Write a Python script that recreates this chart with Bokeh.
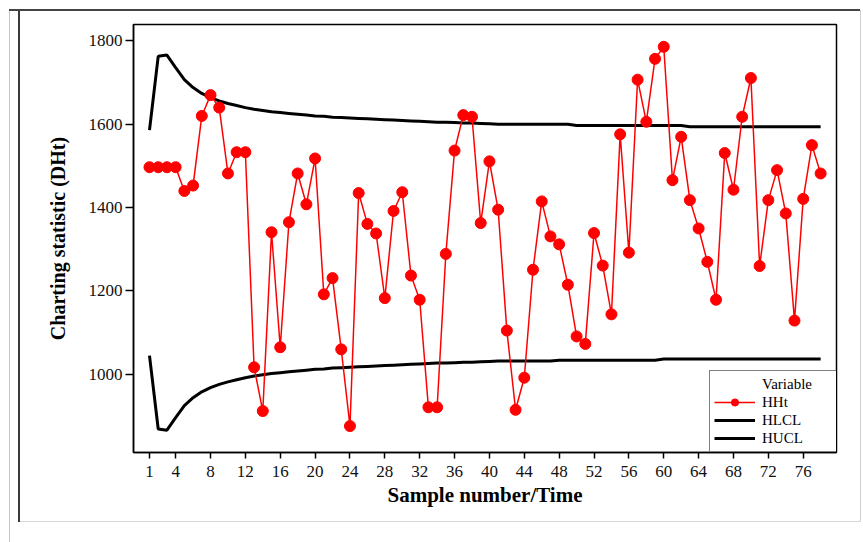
from bokeh.plotting import figure
from bokeh.models import FixedTicker, Legend, LegendItem, Range1d
from bokeh.embed import file_html
from bokeh.resources import INLINE

# ---------------- data ----------------
samples = list(range(1, 79))

hht = [1497, 1497, 1497, 1497, 1440, 1453, 1620, 1670, 1640, 1482, 1533, 1533,
       1017, 912, 1341, 1065, 1365, 1482, 1408, 1518, 1192, 1231, 1060, 876,
       1435, 1361, 1338, 1183, 1392, 1437, 1237, 1179, 921, 921, 1289, 1537,
       1622, 1618, 1363, 1511, 1395, 1105, 915, 992, 1251, 1415, 1331, 1312,
       1215, 1091, 1073, 1339, 1261, 1144, 1576, 1292, 1707, 1606, 1757, 1786,
       1466, 1570, 1418, 1350, 1270, 1179, 1531, 1443, 1618, 1711, 1260, 1418,
       1490, 1386, 1129, 1421, 1550, 1482]

hucl = [1586, 1763, 1766, 1736, 1707, 1688, 1674, 1664, 1656, 1650, 1645, 1640,
        1636, 1633, 1630, 1628, 1626, 1624, 1622, 1620, 1619, 1617, 1616, 1615,
        1614, 1613, 1612, 1611, 1610, 1609, 1608, 1607, 1606, 1605, 1605, 1604,
        1603, 1603, 1602, 1601,
        1600, 1600, 1600, 1600, 1600, 1600, 1600, 1600, 1600,
        1597, 1597, 1597, 1597, 1597, 1597, 1597, 1597, 1597, 1597, 1597, 1597, 1597,
        1594, 1594, 1594, 1594, 1594, 1594, 1594, 1594, 1594, 1594, 1594, 1594,
        1594, 1594, 1594, 1594]

hlcl = [1045, 869, 866, 896, 925, 944, 958, 968, 976, 982, 987, 992,
        996, 999, 1002, 1004, 1006, 1008, 1010, 1012, 1013, 1015, 1016, 1017,
        1018, 1019, 1020, 1021, 1022, 1023, 1024, 1025, 1026, 1027, 1027, 1028,
        1029, 1029, 1030, 1031,
        1032, 1032, 1032, 1032, 1032, 1032, 1032,
        1034, 1034, 1034, 1034, 1034, 1034, 1034, 1034, 1034, 1034, 1034, 1034,
        1037, 1037, 1037, 1037, 1037, 1037, 1037, 1037, 1037, 1037, 1037, 1037,
        1037, 1037, 1037, 1037, 1037, 1037, 1037]

x_ticks = [1, 4, 8, 12, 16, 20, 24, 28, 32, 36, 40, 44, 48, 52, 56, 60, 64, 68, 72, 76]
y_ticks = [1000, 1200, 1400, 1600, 1800]

legend_title = "Variable"
series_names = ["HHt", "HLCL", "HUCL"]

# ---------------- figure ----------------
SERIF = "Liberation Serif"

p = figure(width=863, height=542, output_backend="svg", toolbar_location=None,
           x_range=Range1d(-0.835, 79.82), y_range=Range1d(812.5, 1839.4),
           min_border_left=133, min_border_right=27,
           min_border_top=24, min_border_bottom=90)
p.grid.visible = False
p.background_fill_color = "white"
p.border_fill_color = "white"
p.border_fill_alpha = 0.0
p.outline_line_color = "black"
p.outline_line_width = 1.5

# decorative scan border of the page, drawn behind the transparent canvas
p.styles = {
    "background-color": "white",
    "background-image": ", ".join(["linear-gradient(#444444, #444444)",
                                   "linear-gradient(#c4c4c4, #c4c4c4)",
                                   "linear-gradient(#3a3a3a, #3a3a3a)",
                                   "linear-gradient(#d8d8d8, #d8d8d8)",
                                   "linear-gradient(#d0d0d0, #d0d0d0)"]),
    "background-size": "851px 2px, 1px 533px, 2px 512px, 841px 1px, 1px 512px",
    "background-position": "9px 9px, 9px 9px, 18px 10px, 20px 521px, 860px 10px",
    "background-repeat": "no-repeat",
}

r_lcl = p.line(samples, hlcl, line_color="black", line_width=3)
r_ucl = p.line(samples, hucl, line_color="black", line_width=3)
r_hl = p.line(samples, hht, line_color="#ff0000", line_width=1.5)
r_hs = p.scatter(samples, hht, marker="circle", size=11,
                 fill_color="#ff0000", line_color="#ff0000")
r_dummy = p.line(x=[], y=[], line_alpha=0)

for ax in (p.xaxis[0], p.yaxis[0]):
    ax.axis_line_color = "black"
    ax.axis_line_width = 1.5
    ax.major_tick_line_color = "black"
    ax.major_tick_line_width = 1.5
    ax.major_tick_in = 0
    ax.minor_tick_line_color = None
    ax.major_label_text_font = SERIF
    ax.major_label_text_font_size = "17px"
    ax.major_label_text_color = "#111111"
    ax.axis_label_text_font = SERIF
    ax.axis_label_text_font_style = "bold"
    ax.axis_label_text_color = "black"

p.xaxis.ticker = FixedTicker(ticks=x_ticks)
p.xaxis.major_tick_out = 6
p.xaxis.major_label_standoff = 7
p.xaxis.axis_label = "Sample number/Time"
p.xaxis.axis_label_text_font_size = "21px"
p.xaxis.axis_label_standoff = 3

p.yaxis.ticker = FixedTicker(ticks=y_ticks)
p.yaxis.major_tick_out = 8
p.yaxis.major_label_standoff = 3
p.yaxis.axis_label = "Charting statistic (DHt)"
p.yaxis.axis_label_text_font_size = "20px"
p.yaxis.axis_label_standoff = 17

legend = Legend(
    items=[LegendItem(label=legend_title, renderers=[r_dummy]),
           LegendItem(label=series_names[0], renderers=[r_hl, r_hs]),
           LegendItem(label=series_names[1], renderers=[r_lcl]),
           LegendItem(label=series_names[2], renderers=[r_ucl])],
    location=(576, 0), orientation="vertical",
    margin=0, padding=4, spacing=0,
    glyph_width=41, glyph_height=18, label_height=18, label_width=73,
    label_standoff=7,
    label_text_font=SERIF, label_text_font_size="15px", label_text_color="black",
    border_line_color="black", border_line_width=1.5,
    background_fill_color="white", background_fill_alpha=1.0,
)
p.add_layout(legend)

open("out.html", "w").write(file_html(p, INLINE))
